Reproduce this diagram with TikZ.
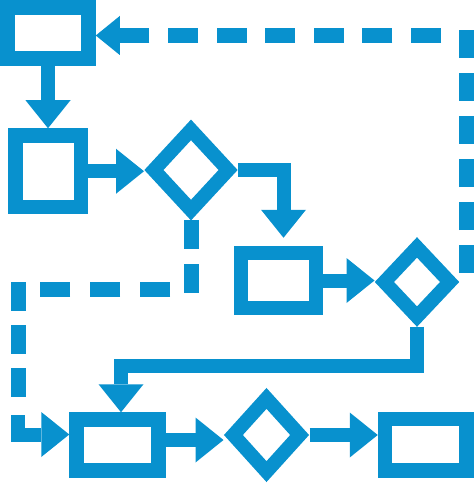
\documentclass[tikz,border=0pt]{standalone}
\usetikzlibrary{shapes.geometric,arrows.meta}
\definecolor{flowblue}{RGB}{8,145,206}
\begin{document}
\begin{tikzpicture}[x=1pt,y=-1pt,
  boxnode/.style={draw=flowblue,line width=14.5pt,rectangle,inner sep=0pt},
  decnode/.style={draw=flowblue,line width=14pt,diamond,inner sep=0pt,line join=miter},
  arr/.style={draw=flowblue,color=flowblue,line width=14pt,line join=miter,
    -{Triangle[width=45pt,length=28pt,line width=0pt]}},
  arrsmall/.style={draw=flowblue,color=flowblue,line width=15pt,
    -{Triangle[width=39pt,length=24pt,line width=0pt]}},
  dashln/.style={draw=flowblue,line width=15pt,line cap=butt}
]
\useasboundingbox (0,0) rectangle (474,486);

% process boxes
\node[boxnode,minimum width=81pt,minimum height=51pt] (b1) at (48,33) {};
\node[boxnode,minimum width=65.5pt,minimum height=71.5pt] (b2) at (48.25,171.25) {};
\node[boxnode,minimum width=75pt,minimum height=55pt] (b3) at (278.5,280.5) {};
\node[boxnode,minimum width=82pt,minimum height=51pt] (b4) at (117.5,445) {};
\node[boxnode,minimum width=81.5pt,minimum height=51.5pt] (b5) at (425.75,444.75) {};

% decision diamonds
\node[decnode,minimum width=80pt,minimum height=86pt] (d1) at (191,170) {};
\node[decnode,minimum width=71pt,minimum height=75pt] (d2) at (417,282) {};
\node[decnode,minimum width=72pt,minimum height=79pt] (d3) at (266.5,435) {};

% solid connectors
\draw[arr] (b1.south) -- (b1.south |- b2.north);
\draw[arr] (b2.east) -- (b2.east -| d1.west);
\draw[arr] (d1.east) -| ([xshift=5pt,yshift=8pt]b3.north);
\draw[arr] (b3.east) -- (b3.east -| d2.west);
\coordinate (k) at (0,366);
\draw[arr] (d2.south) -- (d2.south |- k) -| ([xshift=3.5pt]b4.north);
\draw[arr] ([yshift=5pt]b4.east) -- ([yshift=5pt]b4.east -| d3.west);
\draw[arr] (d3.east) -- (d3.east -| b5.west);

% dashed return from d2 to b1
\coordinate (rA) at (466,273);
\coordinate (rB) at (466,30);
\coordinate (rC) at (441,35.5);
\coordinate (rD) at (147,35.5);
\draw[dashln,dash pattern=on 28pt off 15pt] (rA) -- (rB);
\draw[dashln,dash pattern=on 30pt off 18.6pt] (rC) -- (rD);
\draw[arrsmall] (rD) -- (rD -| b1.east);

% dashed branch from d1 to b4
\coordinate (lA) at (191,296);
\coordinate (lB) at (170,289);
\coordinate (lC) at (39,289);
\coordinate (lD) at (18,282);
\coordinate (lE) at (18,397);
\coordinate (lF) at (18,415);
\draw[dashln,dash pattern=on 29pt off 15pt] (d1.south) -- (d1.south |- lA);
\draw[dashln,dash pattern=on 30pt off 20pt] (lB) -- (lC);
\draw[dashln,dash pattern=on 29pt off 14pt] (lD) -- (lE);
\draw[arr] (lF) |- ([yshift=10.5pt]b4.west);
\end{tikzpicture}
\end{document}
